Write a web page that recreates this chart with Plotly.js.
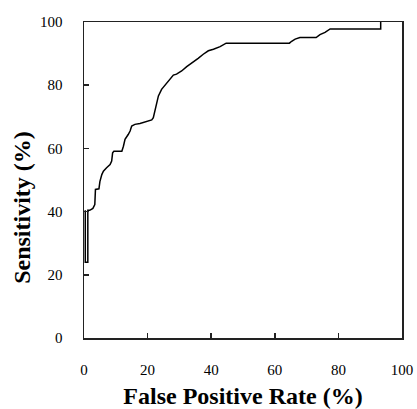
<!DOCTYPE html>
<html>
<head>
<meta charset="utf-8">
<script src="https://cdn.plot.ly/plotly-3.0.1.min.js"></script>
<style>html,body{margin:0;padding:0;background:#fff;}#chart{width:417px;height:409px;}</style>
</head>
<body>
<div id="chart"></div>
<script>
var falsePositiveRate = [0.4, 0.4, 1.2, 1.2, 1.8, 2.8, 3.4, 3.6, 4.7, 5.0, 5.6, 6.1, 7.1, 8.2, 8.7, 9.0, 9.4, 11.9, 12.4, 12.9, 13.9, 14.5, 15.0, 16.0, 17.6, 19.2, 21.3, 21.8, 22.3, 22.9, 23.4, 24.4, 26.0, 27.0, 28.1, 29.1, 30.7, 32.3, 33.9, 35.9, 37.5, 39.1, 40.7, 42.8, 44.7, 64.6, 65.3, 66.4, 67.9, 73.0, 74.2, 75.8, 77.4, 93.3, 93.3];
var sensitivity = [40.4, 24, 24, 40.4, 40.4, 41.0, 42.2, 47.0, 47.2, 49.5, 51.7, 52.8, 53.9, 54.9, 56.0, 58.6, 59.1, 59.1, 60.7, 62.9, 64.4, 65.5, 67.1, 67.6, 67.9, 68.3, 69.0, 69.7, 72.0, 74.0, 76.6, 78.7, 80.8, 82.1, 83.2, 83.5, 84.5, 85.9, 87.0, 88.5, 89.8, 90.9, 91.4, 92.2, 93.3, 93.3, 93.9, 94.6, 95.1, 95.1, 96.0, 96.7, 97.8, 97.8, 100];
var tickValues = [0, 20, 40, 60, 80, 100];
var tickLabels = ["0", "20", "40", "60", "80", "100"];
var xTitle = "False Positive Rate (%)";
var yTitle = "Sensitivity (%)";

var font = "'Liberation Serif', 'Times New Roman', serif";
var trace = {
  x: falsePositiveRate,
  y: sensitivity,
  type: "scatter",
  mode: "lines",
  line: {color: "#000", width: 1.5},
  hoverinfo: "skip"
};
var axisCommon = {
  range: [0, 100],
  tickvals: tickValues,
  ticktext: tickLabels,
  ticks: "inside",
  ticklen: 5,
  tickwidth: 1.5,
  tickcolor: "#222",
  showline: true,
  linecolor: "#222",
  linewidth: 1.5,
  mirror: true,
  showgrid: false,
  zeroline: false,
  tickfont: {family: font, size: 15, color: "#000"},
  fixedrange: true
};
var layout = {
  width: 417,
  height: 409,
  margin: {l: 84, r: 15, t: 22, b: 71},
  paper_bgcolor: "#fff",
  plot_bgcolor: "#fff",
  showlegend: false,
  xaxis: Object.assign({}, axisCommon, {
    ticklabelstandoff: 17,
    title: {text: "<b>" + xTitle + "</b>", font: {family: font, size: 24, color: "#000"}, standoff: 10}
  }),
  yaxis: Object.assign({}, axisCommon, {
    ticklabelstandoff: 17
  }),
  annotations: [{
    text: "<b>" + yTitle + "</b>",
    xref: "paper", yref: "paper",
    x: -0.195, y: 0.415,
    xanchor: "center", yanchor: "middle",
    textangle: -90,
    showarrow: false,
    font: {family: font, size: 24, color: "#000"}
  }]
};
Plotly.newPlot("chart", [trace], layout, {displayModeBar: false, staticPlot: true});
</script>
</body>
</html>
